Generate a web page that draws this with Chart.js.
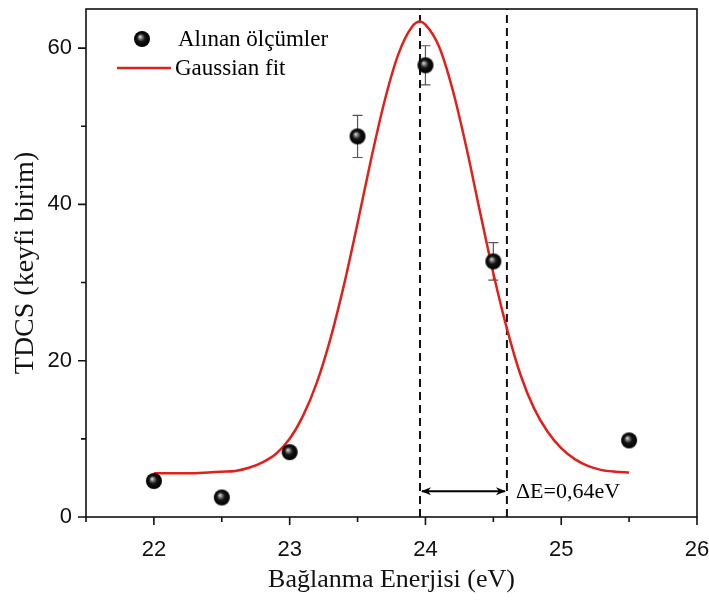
<!DOCTYPE html>
<html>
<head>
<meta charset="utf-8">
<title>TDCS - Bağlanma Enerjisi</title>
<script src="https://cdn.jsdelivr.net/npm/chart.js@4.4.1/dist/chart.umd.min.js"></script>
<style>
  html, body { margin: 0; padding: 0; background: #fff; }
  #wrap { width: 709px; height: 605px; position: relative; }
</style>
</head>
<body>
<div id="wrap"><canvas id="tdcsChart"></canvas></div>
<script>
// measured TDCS values with error bars
const energies = [22, 22.5, 23, 23.5, 24, 24.5, 25.5];
const tdcs = [4.6, 2.5, 8.3, 48.7, 57.8, 32.7, 9.8];
const tdcsErr = [0.6, 0.6, 0.6, 2.7, 2.5, 2.4, 0.6];

// gaussian fit curve, sampled along the drawn line
const fitE = [22.0, 22.1, 22.2, 22.3, 22.4, 22.5, 22.6, 22.7, 22.8, 22.9,
              23.0, 23.1, 23.2, 23.3, 23.4, 23.5, 23.6, 23.7, 23.8, 23.9, 23.96,
              24.0, 24.1, 24.2, 24.3, 24.4, 24.5, 24.6, 24.7, 24.8, 24.9,
              25.0, 25.1, 25.2, 25.3, 25.4, 25.5];
const fitTdcs = [5.6, 5.6, 5.6, 5.6, 5.7, 5.8, 5.9, 6.3, 7.0, 8.1,
                 10.0, 13.0, 17.2, 22.8, 29.7, 37.6, 45.8, 53.3, 59.2, 62.7, 63.4,
                 63.0, 60.2, 54.7, 47.4, 39.2, 31.2, 24.1, 18.2, 13.9, 10.9,
                 8.8, 7.4, 6.5, 6.0, 5.8, 5.7];

// peak position and width marker
const peakE = 23.96;
const deltaE = 0.64;
const arrowLevel = 3.3;

const xLabels = [22, 23, 24, 25, 26];
const yLabels = [0, 20, 40, 60];

const serif = '"Liberation Serif", "Times New Roman", serif';
const sans = '"Liberation Sans", Arial, sans-serif';

// little black sphere used as the point marker
function makeBall(r) {
  const c = document.createElement('canvas');
  const s = Math.ceil(r * 2) + 2;
  c.width = s; c.height = s;
  const g = c.getContext('2d');
  const cx = s / 2, cy = s / 2;
  const grad = g.createRadialGradient(cx - r * 0.25, cy - r * 0.3, 0, cx, cy, r);
  grad.addColorStop(0, '#f0f0f0');
  grad.addColorStop(0.2, '#8a8a8a');
  grad.addColorStop(0.5, '#141414');
  grad.addColorStop(1, '#000');
  g.fillStyle = grad;
  g.beginPath();
  g.arc(cx, cy, r, 0, Math.PI * 2);
  g.fill();
  return c;
}
const ball = makeBall(8);

function isOn(v, list) {
  return list.some(t => Math.abs(t - v) < 1e-6);
}

// fixed axis boxes, no extra room for edge labels
function fixBox(s, w, h) {
  if (w) s.width = w;
  if (h) s.height = h;
  s.paddingLeft = s.paddingRight = s.paddingTop = s.paddingBottom = 0;
}

const decorations = {
  id: 'decorations',

  beforeDatasetsDraw(chart) {
    // error bars sit behind the spheres
    const { ctx, scales: { x, y } } = chart;
    ctx.save();
    ctx.strokeStyle = '#555';
    ctx.lineWidth = 1.2;
    energies.forEach((e, i) => {
      const px = x.getPixelForValue(e);
      const top = y.getPixelForValue(tdcs[i] + tdcsErr[i]);
      const bot = y.getPixelForValue(tdcs[i] - tdcsErr[i]);
      ctx.beginPath();
      ctx.moveTo(px, top); ctx.lineTo(px, bot);
      ctx.moveTo(px - 5, top); ctx.lineTo(px + 5, top);
      ctx.moveTo(px - 5, bot); ctx.lineTo(px + 5, bot);
      ctx.stroke();
    });
    ctx.restore();
  },

  afterDatasetsDraw(chart) {
    const { ctx, chartArea: a, scales: { x, y } } = chart;
    ctx.save();

    // frame
    ctx.strokeStyle = '#111';
    ctx.lineWidth = 1.6;
    ctx.strokeRect(a.left, a.top, a.right - a.left, a.bottom - a.top);

    // outward tick marks, long on labelled values
    ctx.beginPath();
    x.ticks.forEach(t => {
      if (Math.abs(t.value * 2 - Math.round(t.value * 2)) > 1e-6) return;
      const px = x.getPixelForValue(t.value);
      const len = isOn(t.value, xLabels) ? 8 : 5;
      ctx.moveTo(px, a.bottom); ctx.lineTo(px, a.bottom + len);
    });
    y.ticks.forEach(t => {
      if (t.value % 10 !== 0) return;
      const py = y.getPixelForValue(t.value);
      const len = isOn(t.value, yLabels) ? 8 : 5;
      ctx.moveTo(a.left, py); ctx.lineTo(a.left - len, py);
    });
    ctx.stroke();

    // double arrow for the width
    const x1 = x.getPixelForValue(peakE);
    const x2 = x.getPixelForValue(peakE + deltaE);
    const ay = y.getPixelForValue(arrowLevel);
    ctx.strokeStyle = '#000';
    ctx.fillStyle = '#000';
    ctx.lineWidth = 2;
    ctx.beginPath();
    ctx.moveTo(x1 + 2, ay); ctx.lineTo(x2 - 2, ay);
    ctx.stroke();
    ctx.beginPath();
    ctx.moveTo(x1 + 1, ay); ctx.lineTo(x1 + 11, ay - 4); ctx.lineTo(x1 + 8, ay); ctx.lineTo(x1 + 11, ay + 4);
    ctx.closePath();
    ctx.moveTo(x2 - 1, ay); ctx.lineTo(x2 - 11, ay - 4); ctx.lineTo(x2 - 8, ay); ctx.lineTo(x2 - 11, ay + 4);
    ctx.closePath();
    ctx.fill();

    ctx.font = '22px ' + serif;
    ctx.textBaseline = 'middle';
    ctx.textAlign = 'left';
    ctx.fillText('ΔE=0,64eV', x2 + 9, ay + 1);

    // legend
    ctx.font = '23px ' + serif;
    ctx.drawImage(ball, 142 - ball.width / 2, 39 - ball.height / 2);
    ctx.fillText('Alınan ölçümler', 178, 40);
    ctx.strokeStyle = '#e0201b';
    ctx.lineWidth = 2.5;
    ctx.beginPath();
    ctx.moveTo(117, 68); ctx.lineTo(171, 68);
    ctx.stroke();
    ctx.fillText('Gaussian fit', 175, 69);

    ctx.restore();
  }
};

const chart = new Chart(document.getElementById('tdcsChart'), {
  type: 'scatter',
  data: {
    datasets: [
      {
        label: 'Alınan ölçümler',
        data: energies.map((e, i) => ({ x: e, y: tdcs[i] })),
        pointStyle: ball,
        pointRadius: 8,
        pointHoverRadius: 8
      },
      {
        label: 'Gaussian fit',
        type: 'line',
        data: fitE.map((e, i) => ({ x: e, y: fitTdcs[i] })),
        borderColor: '#e0201b',
        borderWidth: 2.5,
        pointRadius: 0,
        fill: false,
        cubicInterpolationMode: 'monotone'
      },
      {
        label: 'peak',
        type: 'line',
        data: [{ x: peakE, y: 0 }, { x: peakE, y: 65 }],
        borderColor: '#111',
        borderWidth: 2,
        borderDash: [8, 5],
        pointRadius: 0
      },
      {
        label: 'peak + dE',
        type: 'line',
        data: [{ x: peakE + deltaE, y: 0 }, { x: peakE + deltaE, y: 65 }],
        borderColor: '#111',
        borderWidth: 2,
        borderDash: [8, 5],
        pointRadius: 0
      }
    ]
  },
  options: {
    responsive: true,
    maintainAspectRatio: false,
    animation: false,
    layout: { padding: { top: 2, right: 12, left: 0, bottom: 0 } },
    plugins: {
      legend: { display: false },
      tooltip: { enabled: false }
    },
    scales: {
      x: {
        type: 'linear',
        min: 21.5,
        max: 26,
        afterFit: s => fixBox(s, 0, 88),
        grid: { display: false, drawTicks: false },
        border: { display: false },
        ticks: {
          stepSize: 0.5,
          autoSkip: false,
          maxRotation: 0,
          padding: 20,
          color: '#111',
          font: { family: sans, size: 22 },
          callback: v => isOn(v, xLabels) ? String(v) : ''
        },
        title: {
          display: true,
          text: 'Bağlanma Enerjisi (eV)',
          color: '#111',
          font: { family: serif, size: 26 },
          padding: { top: 0, bottom: 9 }
        }
      },
      y: {
        min: 0,
        max: 65,
        afterFit: s => fixBox(s, 86, 0),
        grid: { display: false, drawTicks: false },
        border: { display: false },
        ticks: {
          stepSize: 10,
          autoSkip: false,
          padding: 14,
          color: '#111',
          font: { family: sans, size: 22 },
          callback: v => isOn(v, yLabels) ? String(v) : ''
        },
        title: {
          display: true,
          text: 'TDCS (keyfi birim)',
          color: '#111',
          font: { family: serif, size: 28 },
          padding: { top: 9, bottom: 0 }
        }
      }
    }
  },
  plugins: [decorations]
});
</script>
</body>
</html>
